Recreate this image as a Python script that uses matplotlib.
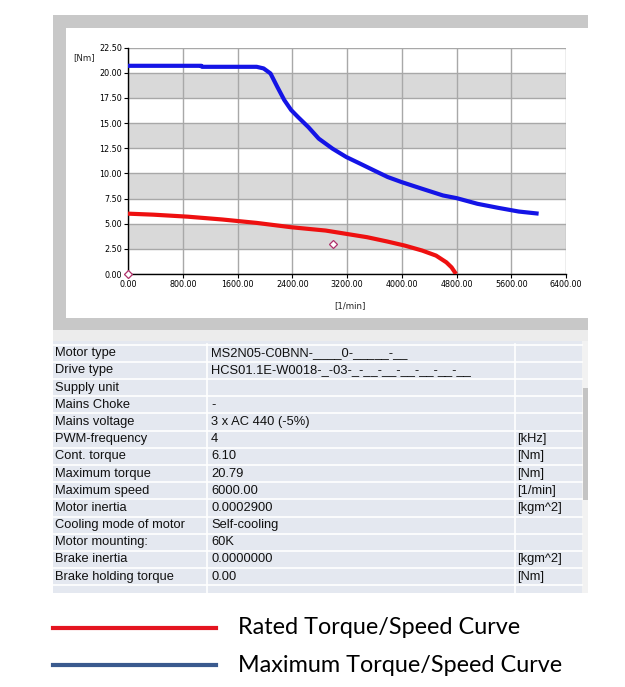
import matplotlib
matplotlib.use("Agg")
import matplotlib.pyplot as plt
from matplotlib.patches import Rectangle
from matplotlib.lines import Line2D

# ---------------- data ----------------
max_speed = [0, 1073, 1080, 1880, 1981, 2082, 2182, 2283, 2384, 2485, 2636, 2787,
             2989, 3190, 3392, 3594, 3795, 3997, 4299, 4602, 4803, 5106, 5408, 5710, 6000]
max_torque = [20.70, 20.70, 20.60, 20.60, 20.44, 19.94, 18.60, 17.30, 16.30, 15.60, 14.60, 13.46,
              12.46, 11.63, 10.97, 10.30, 9.64, 9.14, 8.47, 7.81, 7.54, 6.98, 6.58, 6.21, 6.00]

rated_speed = [0, 368, 872, 1376, 1880, 2384, 2888, 3190, 3493, 3795, 4047, 4299,
               4501, 4652, 4728, 4793]
rated_torque = [6.00, 5.90, 5.70, 5.42, 5.08, 4.65, 4.32, 3.99, 3.66, 3.22, 2.82, 2.33,
                1.83, 1.16, 0.66, 0.00]

marker_speed = [0, 3000]
marker_torque = [0.0, 3.0]

x_ticks = [0, 800, 1600, 2400, 3200, 4000, 4800, 5600, 6400]
y_ticks = [0, 2.5, 5, 7.5, 10, 12.5, 15, 17.5, 20, 22.5]

row_labels = ["Motor type", "Drive type", "Supply unit", "Mains Choke", "Mains voltage",
              "PWM-frequency", "Cont. torque", "Maximum torque", "Maximum speed",
              "Motor inertia", "Cooling mode of motor", "Motor mounting:", "Brake inertia",
              "Brake holding torque"]
row_values = ["MS2N05-C0BNN-____0-_____-__", "HCS01.1E-W0018-_-03-_-__-__-__-__-__-__", "", "-",
              "3 x AC 440 (-5%)", "4", "6.10", "20.79", "6000.00", "0.0002900",
              "Self-cooling", "60K", "0.0000000", "0.00"]
row_units = ["", "", "", "", "", "[kHz]", "[Nm]", "[Nm]", "[1/min]", "[kgm^2]", "", "",
             "[kgm^2]", "[Nm]"]

legend_labels = ["Rated Torque/Speed Curve", "Maximum Torque/Speed Curve"]

# ---------------- figure ----------------
W, H = 625, 687
fig = plt.figure(figsize=(W / 100, H / 100), dpi=100)
fig.patch.set_facecolor("white")


def fx(x):
    return x / W


def fy(y):
    return 1 - y / H


def rect(x0, y0, x1, y1, color, z=0):
    fig.add_artist(Rectangle((fx(x0), fy(y1)), fx(x1) - fx(x0), fy(y0) - fy(y1),
                             transform=fig.transFigure, facecolor=color,
                             edgecolor="none", zorder=z))


def hline(x0, x1, y, color, lw=1.0, z=1):
    fig.add_artist(Line2D([fx(x0), fx(x1)], [fy(y), fy(y)], transform=fig.transFigure,
                          color=color, lw=lw, zorder=z))


def vline(x, y0, y1, color, lw=1.0, z=1):
    fig.add_artist(Line2D([fx(x), fx(x)], [fy(y0), fy(y1)], transform=fig.transFigure,
                          color=color, lw=lw, zorder=z))


# chart panel frame (gray left/top/bottom border)
rect(53, 15, 588, 330, "#c8c8c8", -3)
rect(66, 28, 588, 318, "white", -2)

# table area
rect(53, 330, 588, 341, "#ececec", -3)
rect(53, 341, 582, 593, "#e4e8f0", -3)
rect(582, 341, 588, 593, "#f2f2f2", -3)
rect(583, 388, 588, 500, "#c4c4c4", -2)

# ---------------- plot axes ----------------
ax_l, ax_r, ax_t, ax_b = 128, 566, 47.7, 274
ax = fig.add_axes([fx(ax_l), fy(ax_b), fx(ax_r) - fx(ax_l), fy(ax_t) - fy(ax_b)])
ax.set_zorder(5)
ax.set_xlim(0, 6400)
ax.set_ylim(0, 22.5)
ax.set_facecolor("white")
for lo in [2.5, 7.5, 12.5, 17.5]:
    ax.axhspan(lo, lo + 2.5, color="#d9d9d9", zorder=0, lw=0)
for xv in x_ticks:
    ax.axvline(xv, color="#a8a8a8", lw=1.0, zorder=1)
for yv in y_ticks:
    ax.axhline(yv, color="#a8a8a8", lw=1.0, zorder=1)

ax.plot(max_speed, max_torque, color="#1414e6", lw=3.0, zorder=3, solid_capstyle="butt")
ax.plot(rated_speed, rated_torque, color="#ee1010", lw=3.0, zorder=3, solid_capstyle="butt")
ax.plot(marker_speed, marker_torque, ls="none", marker="D", markersize=4,
        markerfacecolor="white", markeredgecolor="#b0306a", markeredgewidth=0.9,
        zorder=4, clip_on=False)

ax.set_xticks(x_ticks)
ax.set_yticks(y_ticks)
ax.set_xticklabels([f"{v:.2f}" for v in x_ticks])
ax.set_yticklabels([f"{v:.2f}" for v in y_ticks])
ax.tick_params(axis="both", labelsize=5.8, length=3, width=0.8, color="black",
               direction="out", pad=1.5)
for side in ["top", "right"]:
    ax.spines[side].set_visible(False)
for side in ["left", "bottom"]:
    ax.spines[side].set_color("black")
    ax.spines[side].set_linewidth(1.0)
    ax.spines[side].set_zorder(2.5)

fig.text(fx(73), fy(58), "[Nm]", fontsize=6.2, va="center", ha="left", color="#222222")
fig.text(fx(350), fy(305.5), "[1/min]", fontsize=6.2, va="center", ha="center", color="#222222")

# ---------------- table ----------------
row0 = 353.3
step = 17.18
for i, (lab, val, unit) in enumerate(zip(row_labels, row_values, row_units)):
    yc = row0 + i * step
    fig.text(fx(55), fy(yc), lab, fontsize=9.3, family="Liberation Sans", va="center",
             ha="left", color="#111111", zorder=3)
    if val:
        fig.text(fx(211), fy(yc), val, fontsize=9.3, family="Liberation Sans", va="center",
                 ha="left", color="#111111", zorder=3)
    if unit:
        fig.text(fx(517), fy(yc), unit, fontsize=9.3, family="Liberation Sans", va="center",
                 ha="left", color="#111111", zorder=3)
for i in range(len(row_labels) + 1):
    yb = row0 - step / 2 + i * step
    hline(53, 582, yb, "white", lw=1.2, z=2)
vline(207, 344, 593, "white", lw=1.2, z=2)
vline(515, 344, 593, "white", lw=1.2, z=2)

# ---------------- legend ----------------
fig.add_artist(Line2D([fx(53), fx(216)], [fy(628), fy(628)], transform=fig.transFigure,
                      color="#e41420", lw=3.0))
fig.add_artist(Line2D([fx(53), fx(216)], [fy(665), fy(665)], transform=fig.transFigure,
                      color="#3a5a8e", lw=3.0))
fig.text(fx(238), fy(628), legend_labels[0], fontsize=16.8, family="Lato", va="center",
         ha="left", color="black")
fig.text(fx(238), fy(665), legend_labels[1], fontsize=16.8, family="Lato", va="center",
         ha="left", color="black")

fig.savefig("out.png", dpi=100)
